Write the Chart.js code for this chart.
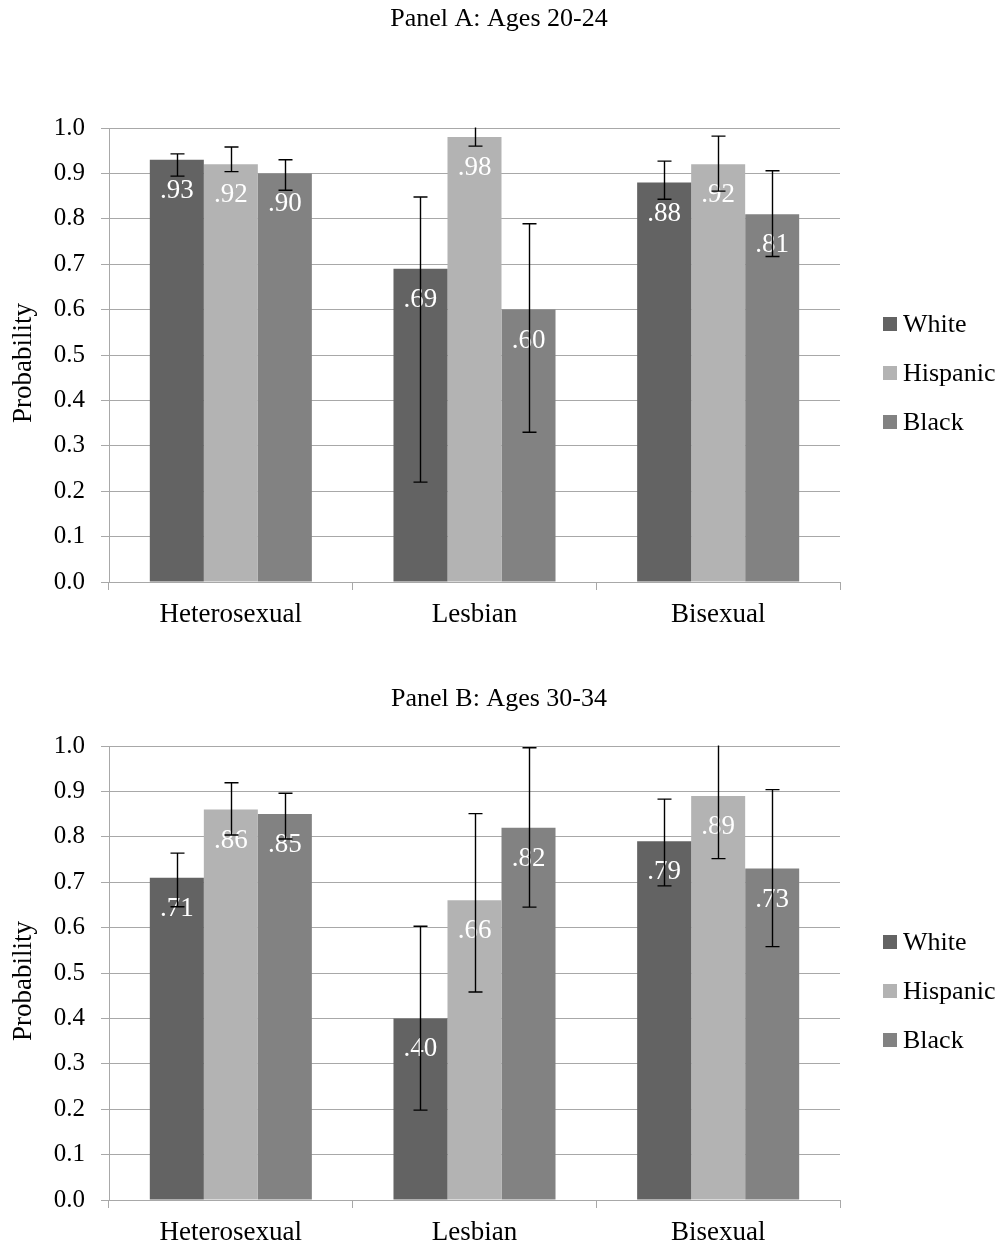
<!DOCTYPE html>
<html>
<head>
<meta charset="utf-8">
<script src="https://cdn.jsdelivr.net/npm/chart.js@4/dist/chart.umd.min.js"></script>
<style>
  html, body { margin: 0; padding: 0; background: #ffffff; }
  #wrap { position: relative; width: 1004px; height: 1247px; }
  canvas { position: absolute; left: 0; }
</style>
</head>
<body>
<div id="wrap">
  <canvas id="panelA" width="1004" height="660" style="top:0"></canvas>
  <canvas id="panelB" width="1004" height="587" style="top:660px"></canvas>
</div>
<script>
// Categories and series
const categories = ['Heterosexual', 'Lesbian', 'Bisexual'];
const groupNames = ['White', 'Hispanic', 'Black'];
const panelTitles = ['Panel A: Ages 20-24', 'Panel B: Ages 30-34'];
const axisTitle = 'Probability';
const yTicks = [0, 0.1, 0.2, 0.3, 0.4, 0.5, 0.6, 0.7, 0.8, 0.9, 1.0];

// Panel A: ages 20-24, predicted probabilities
const a_white    = [0.93, 0.69, 0.88];
const a_hispanic = [0.92, 0.98, 0.92];
const a_black    = [0.90, 0.60, 0.81];
// Panel A confidence intervals
const a_white_lo    = [0.894, 0.220, 0.843];
const a_white_hi    = [0.943, 0.848, 0.927];
const a_hispanic_lo = [0.904, 0.960, 0.861];
const a_hispanic_hi = [0.958, 1.020, 0.982];
const a_black_lo    = [0.863, 0.330, 0.717];
const a_black_hi    = [0.930, 0.789, 0.906];

// Panel B: ages 30-34, predicted probabilities
const b_white    = [0.71, 0.40, 0.79];
const b_hispanic = [0.86, 0.66, 0.89];
const b_black    = [0.85, 0.82, 0.73];
// Panel B confidence intervals
const b_white_lo    = [0.646, 0.198, 0.692];
const b_white_hi    = [0.764, 0.603, 0.883];
const b_hispanic_lo = [0.804, 0.458, 0.752];
const b_hispanic_hi = [0.919, 0.851, 1.020];
const b_black_lo    = [0.795, 0.645, 0.558];
const b_black_hi    = [0.896, 0.996, 0.904];

const colors = ['#636363', '#b3b3b3', '#828282'];
const SERIF = '"Liberation Serif", "Times New Roman", Times, serif';
const GRID = '#a8a8a8';

Chart.defaults.font.family = SERIF;
Chart.defaults.color = '#000000';

// Value labels inside the bar tops, then error bars on top of them
const barExtras = {
  id: 'barExtras',
  afterDatasetsDraw(chart, args, opts) {
    const ctx = chart.ctx;
    const ys = chart.scales.y;
    const area = chart.chartArea;
    ctx.save();
    ctx.font = '27px ' + SERIF;
    ctx.fillStyle = '#ffffff';
    ctx.textAlign = 'center';
    ctx.textBaseline = 'middle';
    chart.data.datasets.forEach((ds, i) => {
      chart.getDatasetMeta(i).data.forEach((bar, j) => {
        const txt = ds.data[j].toFixed(2).replace(/^0/, '');
        ctx.fillText(txt, bar.x, bar.y + 31);
      });
    });
    ctx.restore();

    ctx.save();
    ctx.beginPath();
    ctx.rect(area.left, area.top - 0.5, area.right - area.left, area.bottom - area.top + 1);
    ctx.clip();
    ctx.strokeStyle = '#000000';
    ctx.lineWidth = 1.4;
    const cap = 7;
    chart.data.datasets.forEach((ds, i) => {
      chart.getDatasetMeta(i).data.forEach((bar, j) => {
        const x = Math.round(bar.x) + 0.5;
        const yLo = ys.getPixelForValue(ds.errLo[j]);
        const yHi = ys.getPixelForValue(ds.errHi[j]);
        ctx.beginPath();
        ctx.moveTo(x, yLo); ctx.lineTo(x, yHi);
        ctx.moveTo(x - cap, yLo); ctx.lineTo(x + cap, yLo);
        ctx.moveTo(x - cap, yHi); ctx.lineTo(x + cap, yHi);
        ctx.stroke();
      });
    });
    ctx.restore();
  }
};

// Panel title, vertical axis title and legend
const panelText = {
  id: 'panelText',
  afterDraw(chart, args, opts) {
    const ctx = chart.ctx;
    const area = chart.chartArea;
    ctx.save();
    ctx.fillStyle = '#000000';
    ctx.font = '26px ' + SERIF;
    ctx.textAlign = 'center';
    ctx.textBaseline = 'alphabetic';
    ctx.fillText(opts.title, 499, opts.titleY);

    const midY = (area.top + area.bottom) / 2;
    ctx.save();
    ctx.translate(31, midY + 8);
    ctx.rotate(-Math.PI / 2);
    ctx.font = '27px ' + SERIF;
    ctx.textAlign = 'center';
    ctx.textBaseline = 'alphabetic';
    ctx.fillText(axisTitle, 0, 0);
    ctx.restore();

    ctx.font = '26px ' + SERIF;
    ctx.textAlign = 'left';
    ctx.textBaseline = 'middle';
    chart.data.datasets.forEach((ds, i) => {
      const cy = midY + 18 + (i - 1) * 49;
      ctx.fillStyle = ds.backgroundColor;
      ctx.fillRect(883, cy - 7, 14, 14);
      ctx.fillStyle = '#000000';
      ctx.fillText(ds.label, 903, cy + 1);
    });
    ctx.restore();
  }
};

function buildPanel(canvasId, title, titleY, series, lows, highs, padTop, xHeight) {
  const datasets = groupNames.map((name, i) => ({
    label: name,
    data: series[i],
    errLo: lows[i],
    errHi: highs[i],
    backgroundColor: colors[i],
    borderWidth: 0,
    categoryPercentage: 0.665,
    barPercentage: 1.0
  }));
  return new Chart(document.getElementById(canvasId), {
    type: 'bar',
    data: { labels: categories, datasets },
    plugins: [barExtras, panelText],
    options: {
      responsive: false,
      animation: false,
      devicePixelRatio: 1,
      layout: { padding: { top: padTop, right: 164, left: 0, bottom: 0 } },
      plugins: {
        legend: { display: false },
        tooltip: { enabled: false },
        panelText: { title, titleY }
      },
      scales: {
        x: {
          offset: true,
          grid: { display: true, drawOnChartArea: false, drawTicks: true, tickLength: 8, color: GRID, offset: true },
          border: { color: GRID, width: 1 },
          ticks: { font: { size: 27, family: SERIF }, color: '#000000', padding: 9 },
          afterFit(scale) { scale.height = xHeight; }
        },
        y: {
          min: 0,
          max: 1,
          afterBuildTicks(scale) { scale.ticks = yTicks.map(v => ({ value: v })); },
          grid: { color: GRID, tickLength: 8, drawTicks: true },
          border: { color: GRID, width: 1 },
          ticks: {
            font: { size: 25, family: SERIF },
            color: '#000000',
            padding: 16,
            callback: v => Number(v).toFixed(1)
          },
          afterFit(scale) { scale.width = 109; }
        }
      }
    }
  });
}

buildPanel('panelA', panelTitles[0], 26,
  [a_white, a_hispanic, a_black],
  [a_white_lo, a_hispanic_lo, a_black_lo],
  [a_white_hi, a_hispanic_hi, a_black_hi],
  128, 78);

buildPanel('panelB', panelTitles[1], 46,
  [b_white, b_hispanic, b_black],
  [b_white_lo, b_hispanic_lo, b_black_lo],
  [b_white_hi, b_hispanic_hi, b_black_hi],
  86, 47);
</script>
</body>
</html>
